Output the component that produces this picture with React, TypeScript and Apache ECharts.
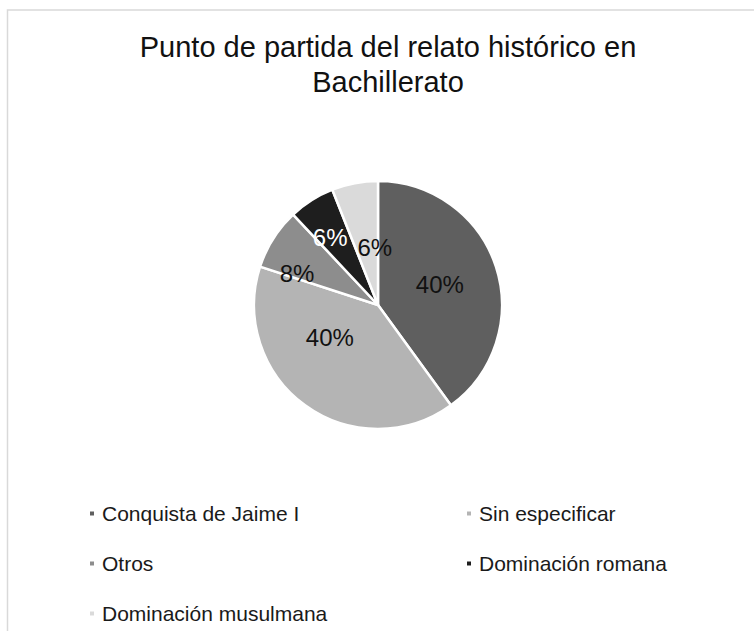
import React, { useEffect, useRef } from "react";
import * as echarts from "echarts";

const titleText = "Punto de partida del relato histórico en\nBachillerato";
const categories = [
  "Conquista de Jaime I",
  "Sin especificar",
  "Otros",
  "Dominación romana",
  "Dominación musulmana",
];
const percentages = [40, 40, 8, 6, 6];
const sliceColors = ["#5f5f5f", "#b4b4b4", "#8d8d8d", "#1e1e1e", "#dadada"];
const labelColors = ["#111", "#111", "#111", "#ffffff", "#111"];
const leftColumn = [categories[0], categories[2], categories[4]];
const rightColumn = [categories[1], categories[3]];
// label nudges (px) to mimic the spreadsheet's "best fit" placement
const labelNudge = [
  [0, 0],
  [-10, -20],
  [-26, 3],
  [-13, -13],
  [9, 6],
];

const FONT = "'Liberation Sans', Arial, sans-serif";

export default function App() {
  const ref = useRef<HTMLDivElement>(null);
  useEffect(() => {
    if (!ref.current) return;
    const chart = echarts.init(ref.current, undefined, { renderer: "svg" });
    const legendBase = {
      orient: "vertical",
      icon: "rect",
      itemWidth: 6,
      itemHeight: 6,
      itemGap: 29,
      padding: 0,
      selectedMode: false,
      textStyle: {
        fontFamily: FONT,
        fontSize: 21,
        lineHeight: 21,
        color: "#1a1a1a",
        padding: [0, 0, 0, 2],
      },
    };
    chart.setOption({
      animation: false,
      backgroundColor: "#ffffff",
      title: {
        text: titleText,
        left: 388,
        top: 29,
        padding: 0,
        textAlign: "center",
        textStyle: {
          fontFamily: FONT,
          fontSize: 29,
          lineHeight: 35,
          fontWeight: "normal",
          color: "#111",
        },
      },
      graphic: [
        {
          type: "rect",
          shape: { x: 7.5, y: 10, width: 800, height: 700 },
          style: { fill: "none", stroke: "#d9d9d9", lineWidth: 1.5 },
          silent: true,
          z: -1,
        },
      ],
      legend: [
        { ...legendBase, data: leftColumn, left: 88, top: 503 },
        { ...legendBase, data: rightColumn, left: 465, top: 503 },
      ],
      series: [
        {
          type: "pie",
          center: [378, 305],
          radius: [0, 124],
          startAngle: 90,
          clockwise: true,
          itemStyle: { borderColor: "#ffffff", borderWidth: 2.5 },
          label: {
            show: true,
            position: "inside",
            formatter: "{c}%",
            fontFamily: FONT,
            fontSize: 24,
          },
          labelLine: { show: false },
          labelLayout: (params: any) => {
            const n = labelNudge[params.dataIndex] || [0, 0];
            return { dx: n[0], dy: n[1] };
          },
          emphasis: { disabled: true },
          data: categories.map((name, i) => ({
            name,
            value: percentages[i],
            itemStyle: { color: sliceColors[i] },
            label: { color: labelColors[i] },
          })),
        },
      ],
    });
    return () => chart.dispose();
  }, []);
  return (
    <div
      ref={ref}
      style={{ position: "fixed", left: 0, top: 0, width: 754, height: 631 }}
    />
  );
}
